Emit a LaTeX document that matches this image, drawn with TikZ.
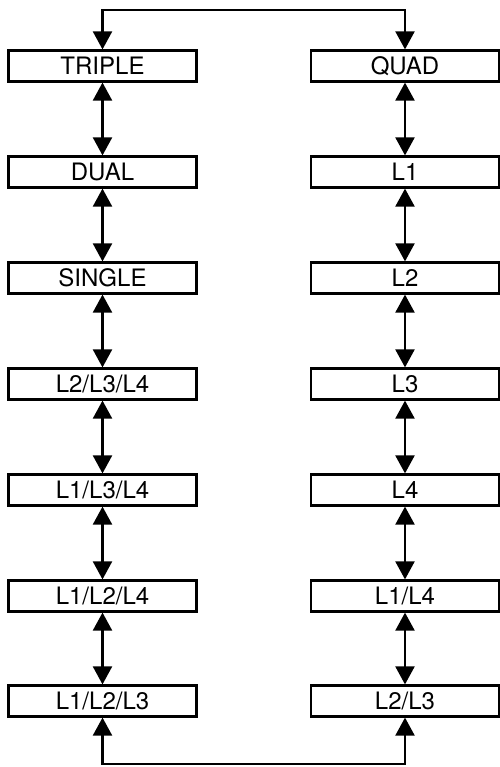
\documentclass[tikz,border=0pt]{standalone}
\usepackage{fontspec}
\setmainfont{TeX Gyre Heros}
\usetikzlibrary{arrows.meta}

\begin{document}
\begin{tikzpicture}[x=1pt,y=-1pt,
  modebox/.style={draw,line width=2.2pt,minimum width=188pt,minimum height=31pt,inner sep=0pt,font=\fontsize{24}{28}\selectfont},
  link/.style={line width=2.2pt,{Triangle[length=18pt,width=19pt]}-{Triangle[length=18pt,width=19pt]}}]
\useasboundingbox (0,0) rectangle (499,767);

% left column
\node[modebox] (triple) at (102.5,66) {TRIPLE};
\node[modebox] (dual) at (102.5,172) {DUAL};
\node[modebox] (single) at (102.5,278) {SINGLE};
\node[modebox] (ltwothreefour) at (102.5,384) {L2/L3/L4};
\node[modebox] (lonethreefour) at (102.5,490) {L1/L3/L4};
\node[modebox] (lonetwofour) at (102.5,596) {L1/L2/L4};
\node[modebox] (lonetwothree) at (102.5,701) {L1/L2/L3};

% right column
\node[modebox] (quad) at (405,66) {QUAD};
\node[modebox] (lone) at (405,172) {L1};
\node[modebox] (ltwo) at (405,278) {L2};
\node[modebox] (lthree) at (405,384) {L3};
\node[modebox] (lfour) at (405,490) {L4};
\node[modebox] (lonefour) at (405,596) {L1/L4};
\node[modebox] (ltwothree) at (405,701) {L2/L3};

\draw[link] (triple) -- (dual);
\draw[link] (dual) -- (single);
\draw[link] (single) -- (ltwothreefour);
\draw[link] (ltwothreefour) -- (lonethreefour);
\draw[link] (lonethreefour) -- (lonetwofour);
\draw[link] (lonetwofour) -- (lonetwothree);

\draw[link] (quad) -- (lone);
\draw[link] (lone) -- (ltwo);
\draw[link] (ltwo) -- (lthree);
\draw[link] (lthree) -- (lfour);
\draw[link] (lfour) -- (lonefour);
\draw[link] (lonefour) -- (ltwothree);

% wrap-around loops
\coordinate (top) at (250,10);
\coordinate (bot) at (250,764);
\draw[link] (triple.north) |- (top) -| (quad.north);
\draw[link] (lonetwothree.south) |- (bot) -| (ltwothree.south);
\end{tikzpicture}
\end{document}
